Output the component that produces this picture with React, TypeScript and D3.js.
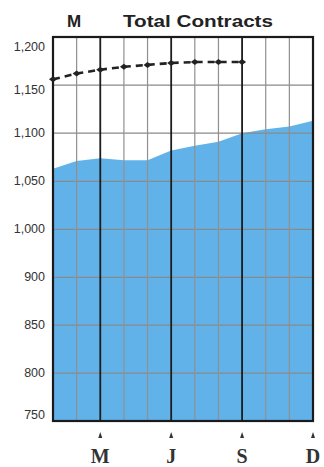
import React from "react";
import * as d3 from "d3";

const months = ["Jan","Feb","Mar","Apr","May","Jun","Jul","Aug","Sep","Oct","Nov","Dec"];
const areaValues = [1063, 1071, 1074, 1072, 1072, 1082, 1087, 1091, 1100, 1104, 1107, 1113];
const dashedValues = [1156, 1162, 1166, 1169, 1171, 1173, 1174, 1174, 1174];
const yTicks = [1200, 1150, 1100, 1050, 1000, 900, 850, 800, 750];
const yTickLabels = ["1,200", "1,150", "1,100", "1,050", "1,000", "900", "850", "800", "750"];
const bottomLabels = [{ m: "Mar", t: "M" }, { m: "Jun", t: "J" }, { m: "Sep", t: "S" }, { m: "Dec", t: "D" }];
const majorMonths = ["Mar", "Jun", "Sep"];

export default function App() {
  const W = 324, H = 467;
  const left = 53, right = 313, top = 37, bottom = 421;
  const x = d3.scalePoint<string>().domain(months).range([left, right]);
  const y = d3.scaleLinear().domain([750, 900, 1000, 1200]).range([bottom, 277.3, 229.4, top]);

  const area = d3.area<number>()
    .x((_, i) => x(months[i])!)
    .y0(bottom)
    .y1((d) => y(d));
  const line = d3.line<number>()
    .x((_, i) => x(months[i])!)
    .y((d) => y(d));

  const labelOffset = (v: number) => (v === 1200 ? 10 : v === 1150 ? 5 : v === 750 ? -6 : 0);

  return (
    <div style={{ position: "absolute", left: 0, top: 0 }}>
      <svg width={W} height={H} style={{ display: "block", background: "#fff" }}>
        <path d={area(areaValues)!} fill="#62b2ea" />
        {yTicks.filter((v) => v !== 1200 && v !== 750).map((v) => (
          <line key={v} x1={left} x2={right} y1={y(v)} y2={y(v)} stroke="#8a8a8a" strokeWidth={1.3} />
        ))}
        {months.slice(1, -1).map((m) => (
          <line key={m} x1={x(m)} x2={x(m)} y1={top} y2={bottom}
            stroke={majorMonths.includes(m) ? "#1c1c1c" : "#909090"}
            strokeWidth={majorMonths.includes(m) ? 1.8 : 1.2} />
        ))}
        <rect x={left} y={top} width={right - left} height={bottom - top} fill="none" stroke="#1a1a1a" strokeWidth={2.2} />
        <path d={line(dashedValues)!} fill="none" stroke="#222" strokeWidth={2.6} strokeDasharray="7,5" />
        {dashedValues.map((v, i) => {
          const cx = x(months[i])!, cy = y(v);
          return <path key={i} d={`M${cx - 4},${cy} L${cx},${cy - 3} L${cx + 4},${cy} L${cx},${cy + 3} Z`} fill="#222" />;
        })}
        {yTicks.map((v, i) => (
          <text key={v} x={45} y={y(v) + labelOffset(v)} textAnchor="end" dominantBaseline="central"
            fontFamily="'Liberation Sans', Arial, sans-serif" fontSize={12.5} fill="#333">{yTickLabels[i]}</text>
        ))}
        <text x={74} y={27} textAnchor="middle" fontFamily="'Liberation Sans', Arial, sans-serif" fontWeight="bold" fontSize={17} fill="#222">M</text>
        <text x={198} y={27} textAnchor="middle" fontFamily="'Liberation Sans', Arial, sans-serif" fontWeight="bold" fontSize={17} fill="#222" textLength={150} lengthAdjust="spacingAndGlyphs">Total Contracts</text>
        {bottomLabels.map((b) => {
          const cx = x(b.m)!;
          return (
            <g key={b.m}>
              <path d={`M${cx - 2},${438} L${cx},${432} L${cx + 2},${438} Z`} fill="#333" />
              <text x={cx} y={463} textAnchor="middle" fontFamily="'Liberation Serif', 'Times New Roman', serif" fontWeight="600" fontSize={20} fill="#333">{b.t}</text>
            </g>
          );
        })}
      </svg>
    </div>
  );
}
